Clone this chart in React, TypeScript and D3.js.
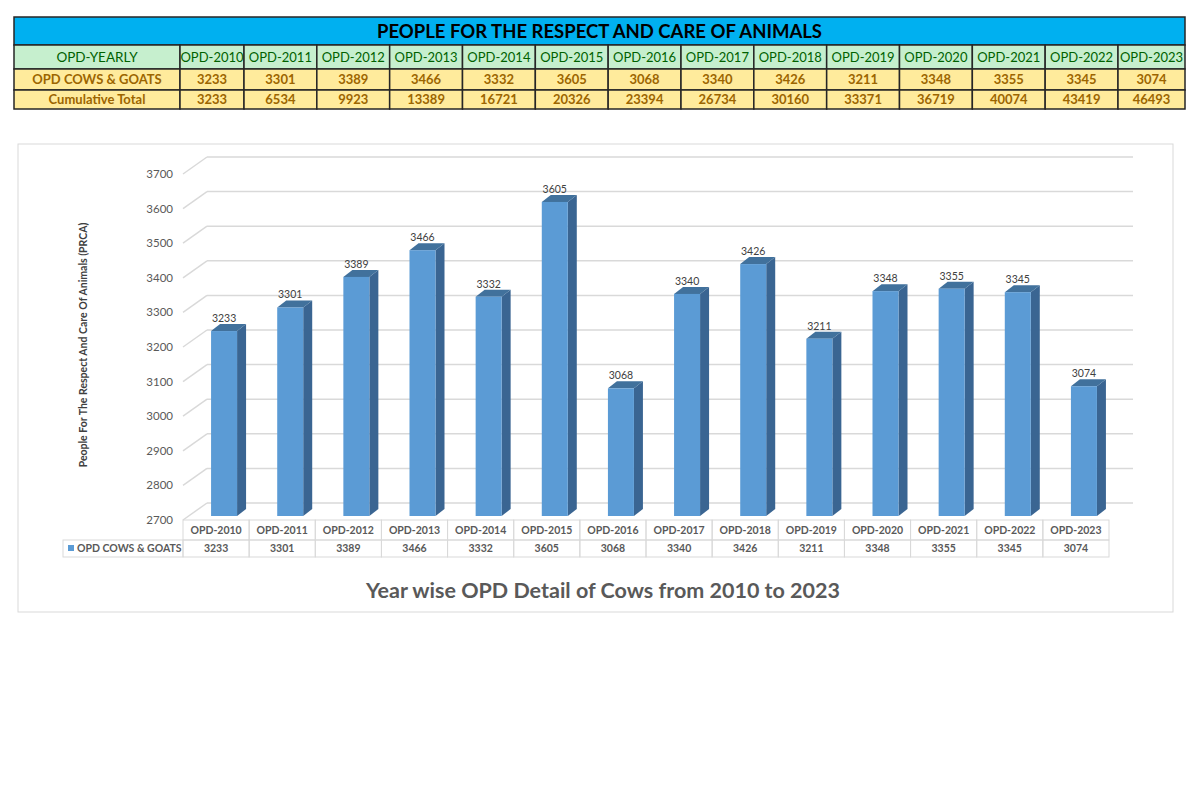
import React from "react";
import * as d3 from "d3";

// chart data
const years = ["OPD-2010", "OPD-2011", "OPD-2012", "OPD-2013", "OPD-2014", "OPD-2015", "OPD-2016",
  "OPD-2017", "OPD-2018", "OPD-2019", "OPD-2020", "OPD-2021", "OPD-2022", "OPD-2023"];
const cows = [3233, 3301, 3389, 3466, 3332, 3605, 3068, 3340, 3426, 3211, 3348, 3355, 3345, 3074];
const cumulative = [3233, 6534, 9923, 13389, 16721, 20326, 23394, 26734, 30160, 33371, 36719, 40074, 43419, 46493];
const yDomain = [2700, 3700];

const seriesName = "OPD COWS & GOATS";
const tableTitle = "PEOPLE FOR THE RESPECT AND CARE OF ANIMALS";
const chartTitle = "Year wise OPD Detail of Cows from 2010 to 2023";
const yTitle = "People For The Respect And Care Of Animals (PRCA)";

const FONT = "Lato, 'Open Sans', sans-serif";

/**
 * top spreadsheet-like table
 */
function TopTable() {
  // first and last year columns are a bit narrower in the sheet
  const inner = d3.scaleLinear().domain([1, years.length - 1]).range([244, 1118]);
  const edges = [14, 180, ...d3.range(1, years.length).map((i) => inner(i)), 1185];
  const rows = [17, 45, 69, 90, 109];
  const border = "#262626";

  const rowData = [
    { label: "OPD-YEARLY", vals: years, fill: "#c6efce", color: "#006100", bold: false, size: 13 },
    { label: seriesName, vals: cows.map(String), fill: "#ffeb9c", color: "#9c6500", bold: true, size: 13 },
    { label: "Cumulative Total", vals: cumulative.map(String), fill: "#ffeb9c", color: "#9c6500", bold: true, size: 13 },
  ];

  return (
    <g fontFamily={FONT}>
      <rect x={edges[0]} y={rows[0]} width={edges[edges.length - 1] - edges[0]} height={rows[1] - rows[0]}
        fill="#00b0f0" stroke={border} strokeWidth={1.5} />
      <text x={(edges[0] + edges[edges.length - 1]) / 2} y={(rows[0] + rows[1]) / 2 + 6.5} textAnchor="middle"
        fontWeight="bold" fontSize={18.5} fill="#000">{tableTitle}</text>
      {rowData.map((r, ri) => {
        var y0 = rows[ri + 1];
        var y1 = rows[ri + 2];
        var cells = [r.label, ...r.vals];
        return (
          <g key={ri}>
            {cells.map((c, ci) => (
              <g key={ci}>
                <rect x={edges[ci]} y={y0} width={edges[ci + 1] - edges[ci]} height={y1 - y0}
                  fill={r.fill} stroke={border} strokeWidth={1.5} />
                <text x={(edges[ci] + edges[ci + 1]) / 2} y={(y0 + y1) / 2 + r.size * 0.36}
                  textAnchor="middle" fontSize={ci == 0 && ri == 0 ? 13.5 : r.size}
                  fontWeight={r.bold ? "bold" : "normal"} fill={r.color}>{c}</text>
              </g>
            ))}
          </g>
        );
      })}
    </g>
  );
}

/**
 * 3D style column chart with data table below
 */
function BarChart() {
  const x = d3.scaleBand().domain(years).range([183, 1109]);
  const yFront = d3.scaleLinear().domain(yDomain).range([520, 174]);
  const yBar = d3.scaleLinear().domain(yDomain).range([516, 169]);
  const depthX = 24, depthY = -17; // wall depth
  const barW = 26, sideX = 9, sideY = -7;
  const ticks = yFront.ticks(10);
  const backRight = 1133;
  const gridColor = "#d9d9d9";
  const textGray = "#595959";

  return (
    <g fontFamily={FONT}>
      <rect x={18} y={144} width={1155} height={468} fill="#fff" stroke="#d9d9d9" strokeWidth={1} />

      {/* walls / gridlines */}
      {ticks.map((t) => (
        <g key={t}>
          <line x1={183} y1={yFront(t)} x2={183 + depthX} y2={yFront(t) + depthY} stroke={gridColor} strokeWidth={1.5} />
          <line x1={183 + depthX} y1={yFront(t) + depthY} x2={backRight} y2={yFront(t) + depthY} stroke={gridColor} strokeWidth={1.5} />
          <text x={173} y={yFront(t) + 4} textAnchor="end" fontSize={11.5} fill={textGray}>{t}</text>
        </g>
      ))}

      <text transform={`translate(87,345) rotate(-90)`} textAnchor="middle" fontSize={10.5} fontWeight="bold"
        fill="#404040">{yTitle}</text>

      {/* bars */}
      {years.map((c, i) => {
        var x0 = x(c)! + x.bandwidth() / 2 - 5;
        var yt = yBar(cows[i]);
        var yb = yBar(yDomain[0]);
        var side = [[x0 + barW, yt], [x0 + barW + sideX, yt + sideY], [x0 + barW + sideX, yb + sideY], [x0 + barW, yb]];
        var top = [[x0, yt], [x0 + sideX, yt + sideY], [x0 + barW + sideX, yt + sideY], [x0 + barW, yt]];
        return (
          <g key={c}>
            <polygon points={side.map((p) => p.join(",")).join(" ")} fill="#3a6592" />
            <polygon points={top.map((p) => p.join(",")).join(" ")} fill="#41719c" />
            <rect x={x0} y={yt} width={barW} height={yb - yt} fill="#5b9bd5" />
            <text x={x0 + barW / 2} y={yt - 9} textAnchor="middle" fontSize={10.5} fill="#404040">{cows[i]}</text>
          </g>
        );
      })}

      {/* data table */}
      <rect x={63} y={540} width={120} height={17} fill="none" stroke={gridColor} />
      <rect x={68} y={545} width={6} height={6} fill="#5b9bd5" />
      <text x={77} y={552} fontSize={10.5} fontWeight="bold" fill={textGray}>{seriesName}</text>
      {years.map((c, i) => (
        <g key={c}>
          <rect x={x(c)} y={520} width={x.bandwidth()} height={20} fill="none" stroke={gridColor} />
          <rect x={x(c)} y={540} width={x.bandwidth()} height={17} fill="none" stroke={gridColor} />
          <text x={x(c)! + x.bandwidth() / 2} y={534} textAnchor="middle" fontSize={10.5} fontWeight="bold" fill={textGray}>{c}</text>
          <text x={x(c)! + x.bandwidth() / 2} y={552} textAnchor="middle" fontSize={10.5} fontWeight="bold" fill={textGray}>{cows[i]}</text>
        </g>
      ))}

      <text x={603} y={598} textAnchor="middle" fontSize={21.5} fontWeight="bold" fill={textGray}>{chartTitle}</text>
    </g>
  );
}

export default function App() {
  return (
    <svg width={1200} height={800} style={{ position: "absolute", left: 0, top: 0, background: "#fff" }}>
      <TopTable />
      <BarChart />
    </svg>
  );
}
